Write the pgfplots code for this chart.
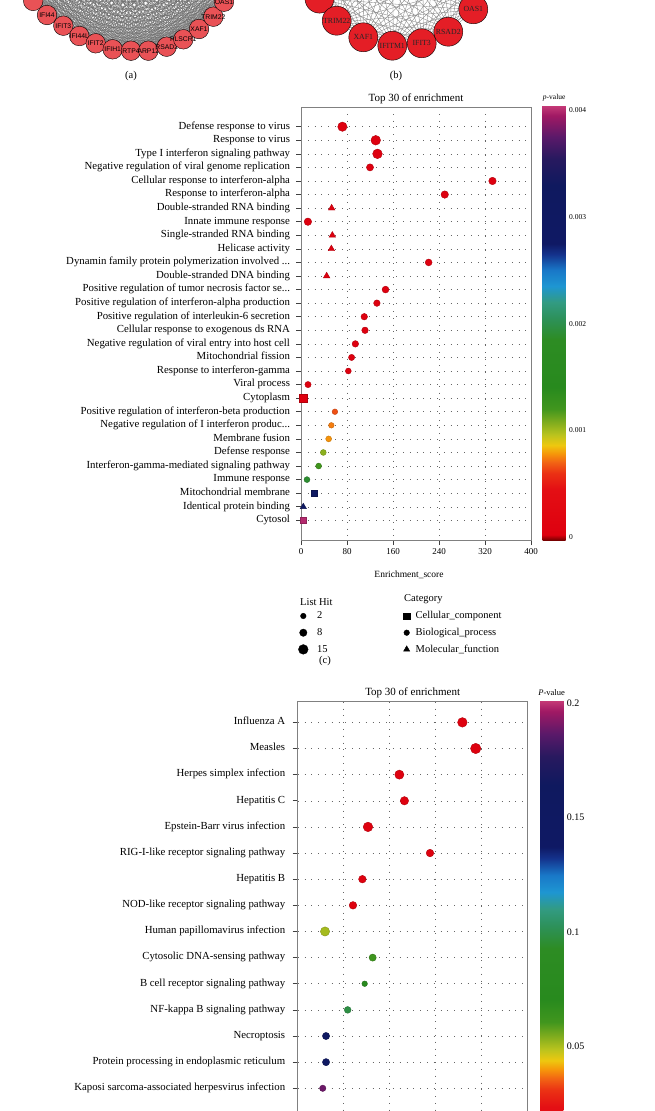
\documentclass[border=0pt]{standalone}
\usepackage{fontspec}
\setmainfont{Liberation Serif}
\newfontfamily\netsans{Liberation Sans}
\usepackage{pgfplots}
\usepackage{pgfplotstable}
\pgfplotsset{compat=1.18}
\definecolor{netA}{RGB}{233,82,86}
\definecolor{netB}{RGB}{228,30,38}
\pgfplotsset{
  colormap={pv}{
    rgb255(0pt)=(120,0,0) rgb255(0.5pt)=(222,0,15) rgb255(4.8pt)=(228,15,20)
    rgb255(6.3pt)=(235,50,20) rgb255(7.3pt)=(242,100,20) rgb255(8.1pt)=(246,150,10)
    rgb255(8.9pt)=(238,200,15) rgb255(9.9pt)=(185,195,30) rgb255(10.9pt)=(135,175,30)
    rgb255(12.3pt)=(65,150,30) rgb255(14.3pt)=(40,138,30) rgb255(18.8pt)=(45,140,35)
    rgb255(20.8pt)=(45,145,90) rgb255(22.3pt)=(50,155,130) rgb255(23.8pt)=(30,150,210)
    rgb255(25.3pt)=(25,120,200) rgb255(26.8pt)=(20,50,140) rgb255(27.8pt)=(15,25,100)
    rgb255(33.3pt)=(15,25,95) rgb255(35.8pt)=(40,25,95) rgb255(37.8pt)=(90,25,105)
    rgb255(39.8pt)=(160,25,100) rgb255(40.8pt)=(200,60,120)
  },
  /pgf/number format/assume math mode=true,
}
% GO enrichment (c): x = enrichment score, y = row, hit = ListHit, p = p-value
\pgfplotstableread{
x y hit p
72 1 14 0.00002
130 2 15 0.00002
133 3 15 0.00002
120 4 7 0.00002
333 5 8 0.00002
250 6 8 0.00002
12 8 8 0.00002
222 11 6 0.00002
147 13 6 0.00002
132 14 5 0.00002
110 15 5 0.00002
111.3 16 5 0.00002
94.5 17 5 0.00002
88 18 4 0.00002
82.3 19 3 0.00002
12.2 20 4 0.00002
59 22 2 0.00066
52.8 23 2 0.00074
48.1 24 3 0.000775
38.8 25 3 0.00105
30.7 26 3 0.0012
10.4 27 3 0.0019
}\gocircle
\pgfplotstableread{
x y hit p
4 21 15 0.00002
23.2 28 9 0.0030
4 30 9 0.0040
}\gosquare
\pgfplotstableread{
x y hit p
53.3 7 5 0.00002
54.5 9 5 0.00002
52.8 10 5 0.00002
44.6 12 5 0.00002
4 29 4 0.0030
}\gotri
% KEGG enrichment (d)
\pgfplotstableread{
x y hit p
17.9 1 14 0.0038
19.35 2 16 0.0038
11.05 3 13 0.0038
11.6 4 11 0.0038
7.64 5 14 0.0038
14.38 6 9 0.0038
7.03 7 9 0.0038
6.01 8 9 0.0038
2.97 9 13 0.0507
8.15 10 8 0.0616
7.28 11 4 0.0714
5.43 12 7 0.0986
3.08 13 8 0.148
3.08 14 8 0.148
2.72 15 6 0.189
}\kegg
\pgfplotsset{
  enrich/.style={
    scale only axis, y dir=reverse,
    tick align=outside, major tick length=5pt,
    xtick pos=bottom, ytick pos=left,
    grid=major, grid style={black!60, line width=0.5pt, dash pattern=on 0.5pt off 6.3pt},
    axis line style={black!50, line width=0.9pt},
    tick style={black!75, line width=0.6pt},
    xticklabel style={font=\fontsize{9}{10}\selectfont},
    yticklabel style={font=\fontsize{10.8}{12}\selectfont, text height=7pt, text depth=2.3pt},
    title style={font=\fontsize{11}{12}\selectfont, yshift=-6pt},
    colormap name=pv, colorbar,
    colorbar shift/.style={},
    colorbar/width=23pt,
  },
  cbar/.style={
    at={(parent axis.north east)}, anchor=north west,
    scale only axis, yticklabel pos=right,
    ytick style={draw=none}, axis line style={draw=none},
    scaled y ticks=false,
  }
}
\begin{document}
\begin{tikzpicture}
\useasboundingbox (0pt,0pt) rectangle (655pt,-1111pt);
% ---------- network edges (a) ----------
\foreach \i in {0,...,38}{
  \pgfmathtruncatemacro{\js}{\i+1}
  \foreach \j in {\js,...,39}{
    \draw[black!58, line width=0.28pt] (129pt,68pt) +({-36.3-9*\i}:118pt) -- +({-36.3-9*\j}:118pt);
  }
}
% ---------- network edges (b) ----------
\foreach \i in {0,...,17}{
  \pgfmathtruncatemacro{\js}{\i+1}
  \foreach \j in {\js,...,18}{
    \draw[black!48, line width=0.35pt] (400pt,46pt) +({-37.3-18.947*\i}:92pt) -- +({-37.3-18.947*\j}:92pt);
  }
}
% ---------- network nodes ----------
\begin{axis}[at={(0pt,-100pt)}, anchor=south west, scale only axis,
  width=655pt, height=100pt, xmin=0, xmax=655, ymin=-100, ymax=0,
  hide axis, clip=false]
\addplot[only marks, mark=*, mark size=9.8pt, mark options={draw=none, fill=netA}]
  table {
x y
33.2 -0.9
};
\addplot[only marks, mark=*, mark size=9.8pt, mark options={draw=none, fill=netA},
  nodes near coords, point meta=explicit symbolic,
  every node near coord/.append style={anchor=center, black, inner sep=0pt,
    font=\netsans\fontsize{6.8}{7}\selectfont}]
  table[meta=label] {
x y label
47 -15 IFI44
63.3 -25.7 IFIT3
79.3 -36 IFI44L
95.7 -43.3 IFIT2
112.7 -49.3 IFIH1
131 -50.7 RTP4
148.3 -50.7 ARP12
166.7 -46.7 RSAD2
183.3 -39.3 PLSCR1
199 -29 XAF1
213.3 -16.7 TRIM22
224 -1.7 OAS1
};
\addplot[only marks, mark=*, mark size=14.5pt, mark options={draw=none, fill=netB}]
  table {
x y
319.5 1.4
};
\addplot[only marks, mark=*, mark size=14.5pt, mark options={draw=none, fill=netB},
  nodes near coords, point meta=explicit symbolic,
  every node near coord/.append style={anchor=center, black!85, inner sep=0pt,
    font=\fontsize{7.8}{8}\selectfont}]
  table[meta=label] {
x y label
336.7 -20.7 TRIM22
363.3 -37.3 XAF1
392.3 -45.7 IFITM1
421.7 -43.3 IFIT3
448.3 -31.7 RSAD2
473.3 -9.3 OAS1
};
\end{axis}
\node[font=\fontsize{10.5}{12}\selectfont] at (131pt,-76pt) {(a)};
\node[font=\fontsize{10.5}{12}\selectfont] at (396pt,-76pt) {(b)};
% ---------- panel (c) ----------
\begin{axis}[enrich,
  at={(301pt,-107pt)}, anchor=north west, width=230pt, height=433pt,
  xmin=0, xmax=400, ymin=-0.45, ymax=31.45,
  xtick={0,80,...,400}, ytick={1,...,30},
  yticklabels={Defense response to virus, Response to virus,
    Type I interferon signaling pathway, Negative regulation of viral genome replication,
    Cellular response to interferon-alpha, Response to interferon-alpha,
    Double-stranded RNA binding, Innate immune response, Single-stranded RNA binding,
    Helicase activity, {Dynamin family protein polymerization involved ..{}.},
    Double-stranded DNA binding, {Positive regulation of tumor necrosis factor se..{}.},
    Positive regulation of interferon-alpha production,
    Positive regulation of interleukin-6 secretion, Cellular response to exogenous ds RNA,
    Negative regulation of viral entry into host cell, Mitochondrial fission,
    Response to interferon-gamma, Viral process, Cytoplasm,
    Positive regulation of interferon-beta production,
    {Negative regulation of I interferon produc..{}.}, Membrane fusion, Defense response,
    Interferon-gamma-mediated signaling pathway, Immune response,
    Mitochondrial membrane, Identical protein binding, Cytosol},
  yticklabel style={xshift=-2.5pt},
  title={Top 30 of enrichment},
  xlabel={Enrichment\_score},
  xlabel style={font=\fontsize{9.5}{11}\selectfont, xshift=-7pt, yshift=-9pt},
  point meta min=-0.00003, point meta max=0.00405,
  colorbar style={cbar, xshift=11.7pt, yshift=2pt, height=435pt,
    ytick={0,0.001,0.002,0.003,0.004}, yticklabels={0,0.001,0.002,0.003,0.004},
    yticklabel style={font=\fontsize{7.5}{9}\selectfont},
    title={\textit{p}-value}, title style={font=\fontsize{7.5}{9}\selectfont, yshift=-6pt}},
]
\addplot[scatter, only marks, mark=*, point meta=explicit,
  visualization depends on={\thisrow{hit} \as \hit},
  scatter/@pre marker code/.append style={/tikz/mark size={2.5+0.155*\hit}}]
  table[x=x, y=y, meta=p] {\gocircle};
\addplot[scatter, only marks, mark=square*, point meta=explicit,
  visualization depends on={\thisrow{hit} \as \hit},
  scatter/@pre marker code/.append style={/tikz/mark size={0.76*(2.5+0.155*\hit)}}]
  table[x=x, y=y, meta=p] {\gosquare};
\addplot[scatter, only marks, mark=triangle*, point meta=explicit,
  visualization depends on={\thisrow{hit} \as \hit},
  scatter/@pre marker code/.append style={/tikz/mark size={1.15*(2.5+0.155*\hit)}}]
  table[x=x, y=y, meta=p] {\gotri};
\end{axis}
% ---------- legends of (c) ----------
\node[anchor=west, inner sep=0pt, font=\fontsize{10.5}{12}\selectfont] at (300pt,-601.7pt) {List Hit};
\node[anchor=west, inner sep=0pt, font=\fontsize{10.5}{12}\selectfont] at (404pt,-599.3pt) {Category};
\begin{axis}[at={(298.45pt,-607.65pt)}, anchor=north west, scale only axis,
  width=1pt, height=1pt, hide axis, xmin=0, xmax=1, ymin=0, ymax=1,
  legend cell align=left,
  legend style={at={(0,1)}, anchor=north west, draw=none, fill=none,
    inner sep=0pt, outer sep=0pt, row sep=0pt, column sep=8.85pt,
    nodes={inner sep=0pt, minimum height=16.7pt, font=\fontsize{10.5}{12}\selectfont}},
  legend image code/.code={\draw[#1] plot coordinates {(0pt,0pt)};}]
\addplot[draw=none, forget plot] coordinates {(0,0)};
\addlegendimage{only marks, mark=*, mark size=2.8pt, black}
\addlegendentry{2}
\addlegendimage{only marks, mark=*, mark size=3.7pt, black}
\addlegendentry{8}
\addlegendimage{only marks, mark=*, mark size=4.85pt, black}
\addlegendentry{15}
\end{axis}
\begin{axis}[at={(403.55pt,-607.65pt)}, anchor=north west, scale only axis,
  width=1pt, height=1pt, hide axis, xmin=0, xmax=1, ymin=0, ymax=1,
  legend cell align=left,
  legend style={at={(0,1)}, anchor=north west, draw=none, fill=none,
    inner sep=0pt, outer sep=0pt, row sep=0pt, column sep=5.85pt,
    nodes={inner sep=0pt, minimum height=16.7pt, font=\fontsize{10.5}{12}\selectfont}},
  legend image code/.code={\draw[#1] plot coordinates {(0pt,0pt)};}]
\addplot[draw=none, forget plot] coordinates {(0,0)};
\addlegendimage{only marks, mark=square*, mark size=3.15pt, black}
\addlegendentry{Cellular\_component}
\addlegendimage{only marks, mark=*, mark size=2.8pt, black}
\addlegendentry{Biological\_process}
\addlegendimage{only marks, mark=triangle*, mark size=3.6pt, black}
\addlegendentry{Molecular\_function}
\end{axis}
\node[font=\fontsize{10.5}{12}\selectfont] at (325pt,-661pt) {(c)};
% ---------- panel (d) ----------
\begin{axis}[enrich,
  at={(297.7pt,-701.7pt)}, anchor=north west, width=230pt, height=459.5pt,
  xmin=0, xmax=25, ymin=0.21, ymax=17.79,
  xtick={0,5,...,25}, xticklabels={}, ytick={1,...,15},
  yticklabels={Influenza A, Measles, Herpes simplex infection, Hepatitis C,
    Epstein-Barr virus infection, RIG-I-like receptor signaling pathway, Hepatitis B,
    NOD-like receptor signaling pathway, Human papillomavirus infection,
    Cytosolic DNA-sensing pathway, B cell receptor signaling pathway,
    NF-kappa B signaling pathway, Necroptosis,
    Protein processing in endoplasmic reticulum,
    Kaposi sarcoma-associated herpesvirus infection},
  yticklabel style={xshift=-4pt},
  title={Top 30 of enrichment},
  point meta min=-0.0001, point meta max=0.2012,
  colorbar/width=23.3pt,
  colorbar style={cbar, xshift=12.3pt, yshift=1.7pt, height=461pt,
    ytick={0.05,0.1,0.15,0.2}, yticklabels={0.05,0.1,0.15,0.2},
    yticklabel style={font=\fontsize{10}{11}\selectfont},
    title={\textit{P}-value}, title style={font=\fontsize{8.5}{10}\selectfont, yshift=-5.5pt}},
]
\addplot[scatter, only marks, mark=*, point meta=explicit,
  visualization depends on={\thisrow{hit} \as \hit},
  scatter/@pre marker code/.append style={/tikz/mark size={2+0.2*\hit}}]
  table[x=x, y=y, meta=p] {\kegg};
\end{axis}
\end{tikzpicture}
\end{document}
